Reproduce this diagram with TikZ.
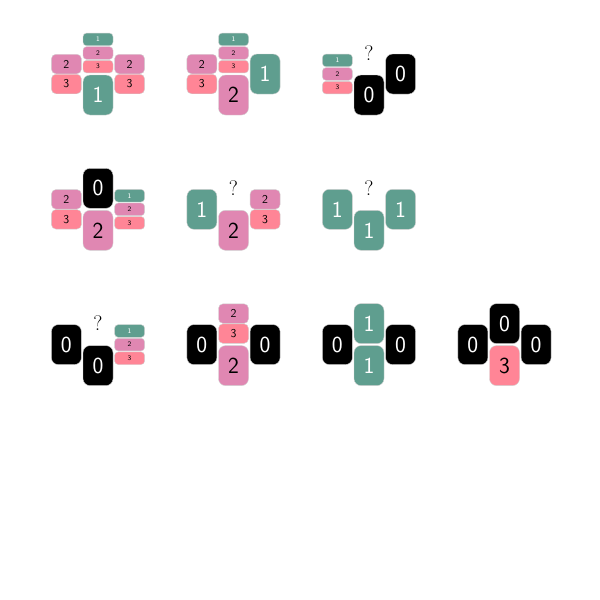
\documentclass[tikz,border=0pt]{standalone}
\definecolor{tealc}{RGB}{95,158,143}
\definecolor{pinka}{RGB}{224,135,178}
\definecolor{pinkb}{RGB}{255,133,150}
\tikzset{
 tile/.style={rounded corners=#1, draw=black!18, line width=0.4pt, inner sep=0pt, minimum width=30pt},
 bigt/.style={tile=7pt, minimum height=40pt, font=\sffamily\fontsize{23}{23}\selectfont},
 halft/.style={tile=4.5pt, minimum height=19.5pt, font=\sffamily\fontsize{12}{12}\selectfont},
 thirdt/.style={tile=3.5pt, minimum height=12.6pt, font=\sffamily\fontsize{7}{7}\selectfont},
 c0/.style={fill=black, text=white},
 c1/.style={fill=tealc, text=white},
 c2/.style={fill=pinka, text=black},
 c3/.style={fill=pinkb, text=black},
 qmark/.style={inner sep=0pt, font=\fontsize{21}{21}\selectfont},
}
\newcommand\BigT[4]{\node[bigt,c#4] (#1) at (#2,#3) {#4};}
\newcommand\TwoT[3]{\node[halft,c2] (#1a) at (#2,#3-10) {2};
  \node[halft,c3] (#1b) at (#2,#3+10) {3};}
\newcommand\ThreeT[3]{\node[thirdt,c1] (#1a) at (#2,#3-13.6) {1};
  \node[thirdt,c2] (#1b) at (#2,#3) {2};
  \node[thirdt,c3] (#1c) at (#2,#3+13.6) {3};}
\newcommand\QM[3]{\node[qmark] (#1) at (#2,#3) {?};}
\begin{document}
\begin{tikzpicture}[x=1pt,y=-1pt]
\useasboundingbox (0,0) rectangle (600,600);
% row 1
\begin{scope}[shift={(0,0)}]
 \ThreeT{aT}{98}{53} \TwoT{aL}{66.4}{74} \TwoT{aR}{129.6}{74} \BigT{aB}{98}{95}{1}
\end{scope}
\begin{scope}[shift={(135.5,0)}]
 \ThreeT{bT}{98}{53} \TwoT{bL}{66.4}{74} \BigT{bR}{129.6}{74}{1} \BigT{bB}{98}{95}{2}
\end{scope}
\begin{scope}[shift={(271,0)}]
 \QM{cT}{98}{53} \ThreeT{cL}{66.4}{74} \BigT{cR}{129.6}{74}{0} \BigT{cB}{98}{95}{0}
\end{scope}
% row 2
\begin{scope}[shift={(0,135.3)}]
 \BigT{dT}{98}{53}{0} \TwoT{dL}{66.4}{74} \ThreeT{dR}{129.6}{74} \BigT{dB}{98}{95}{2}
\end{scope}
\begin{scope}[shift={(135.5,135.3)}]
 \QM{eT}{98}{53} \BigT{eL}{66.4}{74}{1} \TwoT{eR}{129.6}{74} \BigT{eB}{98}{95}{2}
\end{scope}
\begin{scope}[shift={(271,135.3)}]
 \QM{fT}{98}{53} \BigT{fL}{66.4}{74}{1} \BigT{fR}{129.6}{74}{1} \BigT{fB}{98}{95}{1}
\end{scope}
% row 3
\begin{scope}[shift={(0,270.6)}]
 \QM{gT}{98}{53} \BigT{gL}{66.4}{74}{0} \ThreeT{gR}{129.6}{74} \BigT{gB}{98}{95}{0}
\end{scope}
\begin{scope}[shift={(135.5,270.6)}]
 \TwoT{hT}{98}{53} \BigT{hL}{66.4}{74}{0} \BigT{hR}{129.6}{74}{0} \BigT{hB}{98}{95}{2}
\end{scope}
\begin{scope}[shift={(271,270.6)}]
 \BigT{iT}{98}{53}{1} \BigT{iL}{66.4}{74}{0} \BigT{iR}{129.6}{74}{0} \BigT{iB}{98}{95}{1}
\end{scope}
\begin{scope}[shift={(406.5,270.6)}]
 \BigT{jT}{98}{53}{0} \BigT{jL}{66.4}{74}{0} \BigT{jR}{129.6}{74}{0} \BigT{jB}{98}{95}{3}
\end{scope}
\end{tikzpicture}
\end{document}
